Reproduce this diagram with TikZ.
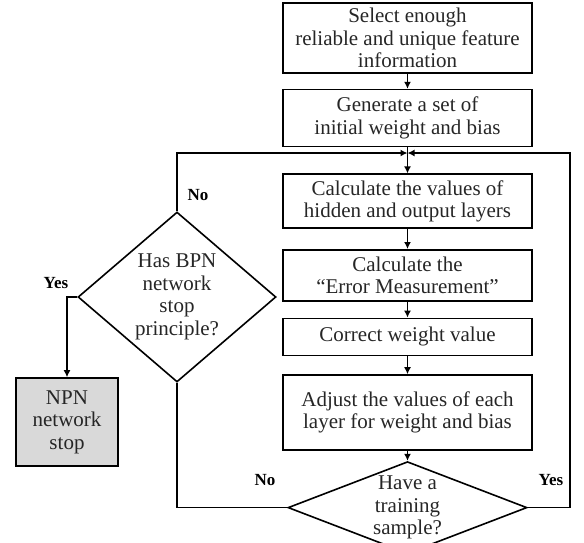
\documentclass[tikz,border=0pt]{standalone}
\usepackage{fontspec}
\setmainfont{Liberation Serif}
\usetikzlibrary{shapes.geometric,arrows.meta,positioning}

\begin{document}
\begin{tikzpicture}[x=1pt, y=-1pt, line width=1.6pt, >={Latex[length=7pt,width=7pt]},
        every node/.style={font=\fontsize{21}{22.5}\selectfont, text=black!85},
        proc/.style={draw, rectangle, align=center, minimum width=249pt, inner sep=2pt},
        decision/.style={draw, diamond, inner sep=0pt},
        answer/.style={font=\fontsize{17}{17}\selectfont\bfseries, text=black}]
        \useasboundingbox (0,0) rectangle (584,542);

        % main column
        \node[proc, minimum height=70pt] (n1) at (407.5,38) {Select enough\\reliable and unique feature\\information};
        \node[proc, minimum height=57pt, below=15pt of n1] (n2) {Generate a set of\\initial weight and bias};
        \node[proc, minimum height=54pt, below=26pt of n2] (n3) {Calculate the values of\\hidden and output layers};
        \node[proc, minimum height=51pt, below=20pt of n3] (n4) {Calculate the\\“Error Measurement”};
        \node[proc, minimum height=37pt, below=16pt of n4] (n5) {Correct weight value};
        \node[proc, minimum height=75pt, below=18pt of n5] (n6) {Adjust the values of each\\layer for weight and bias};
        \node[decision, minimum width=239pt, minimum height=92pt, below=10pt of n6,
            label={[align=center]center:Have a\\training\\sample?}] (d2) {};

        % left side
        \node[decision, minimum width=198pt, minimum height=170pt,
            label={[align=center]center:Has BPN\\network\\stop\\principle?}] (d1) at (177,297) {};
        \node[proc, fill=black!15, minimum width=102pt, minimum height=88pt] (n7) at (67,422) {NPN\\network\\stop};

        \coordinate (j) at (407.5,153);
        \coordinate (jr) at (570,153);

        \draw[->] (n1) -- (n2);
        \draw (n2) -- (j);
        \draw[->] (j) -- (n3);
        \draw[->] (n3) -- (n4);
        \draw[->] (n4) -- (n5);
        \draw[->] (n5) -- (n6);
        \draw[->] (n6) -- (d2);
        \draw[->] (d2.east) -| (jr) -- (j);
        \draw (d2.west) -| (d1.south);
        \draw[->] (d1.north) |- (j);
        \draw[->] (d1.west) -| (n7.north);

        \node[answer] (no1) at (198,195) {No};
        \node[answer] (yes1) at (56,283) {Yes};
        \node[answer] (no2) at (265,480) {No};
        \node[answer] (yes2) at (551,480) {Yes};
    \end{tikzpicture}
\end{document}
